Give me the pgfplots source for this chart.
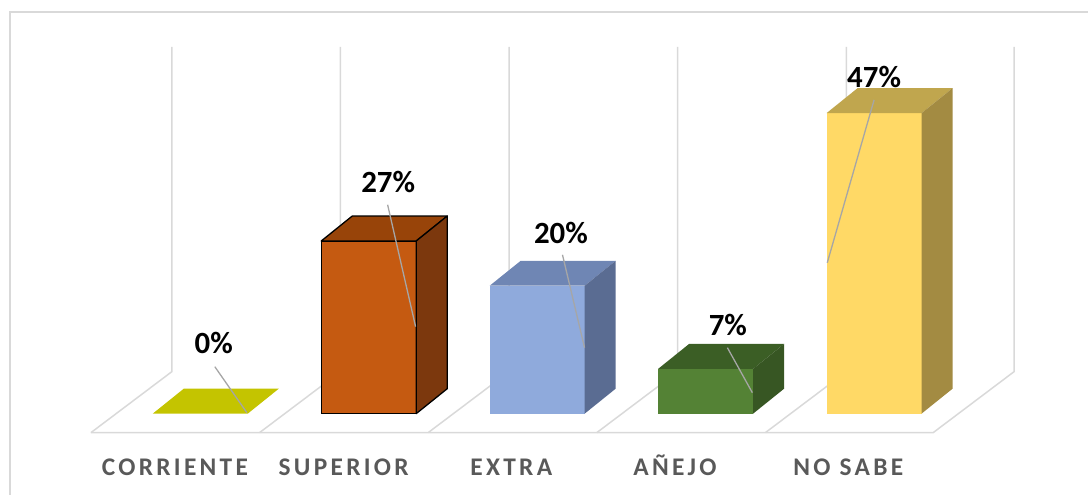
\documentclass[border=0pt]{standalone}
\usepackage{pgfplots}
\pgfplotsset{compat=1.18}
\usepackage{fontspec}
\setmainfont{Carlito}
\newfontfamily\catfont[LetterSpace=13]{Carlito}
\definecolor{gridg}{HTML}{D9D9D9}
\definecolor{leader}{HTML}{A6A6A6}
\definecolor{catg}{HTML}{595959}
\definecolor{corrT}{HTML}{C4C400}
\definecolor{supF}{HTML}{C55A11}
\definecolor{supT}{HTML}{984409}
\definecolor{supS}{HTML}{7C380D}
\definecolor{extF}{HTML}{8FAADC}
\definecolor{extT}{HTML}{6F86B4}
\definecolor{extS}{HTML}{5A6C92}
\definecolor{aneF}{HTML}{548235}
\definecolor{aneT}{HTML}{3B5E25}
\definecolor{aneS}{HTML}{375623}
\definecolor{noF}{HTML}{FFD966}
\definecolor{noT}{HTML}{C0A64E}
\definecolor{noS}{HTML}{A38B42}
\begin{document}
\begin{tikzpicture}
\begin{axis}[scale only axis, width=1089bp, height=495bp,
  xmin=-1.1892, xmax=5.2699, ymin=-12.656, ymax=64.6875,
  hide axis, clip=false]
% bounding box and chart border
\path (rel axis cs:0,0) rectangle (rel axis cs:1,1);
\draw[gridg, line width=2bp] (rel axis cs:0.0092,0) -- (rel axis cs:0.0092,0.9758) -- (rel axis cs:1,0.9758);
% floor and back wall
\addplot[gridg, line width=1.5bp] coordinates {(-0.649,-2.97) (4.351,-2.97) (4.831,6.56) (4.831,57.34)};
\addplot[gridg, line width=1.5bp] coordinates {(-0.649,-2.97) (-0.169,6.56) (-0.169,57.34)};
\addplot[gridg, line width=1.5bp] coordinates {(0.352,-2.97) (0.832,6.56) (0.832,57.34)};
\addplot[gridg, line width=1.5bp] coordinates {(1.353,-2.97) (1.833,6.56) (1.833,57.34)};
\addplot[gridg, line width=1.5bp] coordinates {(2.354,-2.97) (2.834,6.56) (2.834,57.34)};
\addplot[gridg, line width=1.5bp] coordinates {(3.355,-2.97) (3.835,6.56) (3.835,57.34)};
% CORRIENTE 0%
\addplot[fill=corrT, draw=none] coordinates {(-0.282,0) (0.282,0) (0.466,3.9) (-0.098,3.9)} -- cycle;
% SUPERIOR 27%
\addplot[ybar, bar width=0.564, bar shift=0pt, fill=supF, draw=black, line width=1.3bp] coordinates {(1,27)};
\addplot[fill=supT, draw=black, line width=1.3bp, line join=round] coordinates {(0.718,27) (1.282,27) (1.466,30.9) (0.902,30.9)} -- cycle;
\addplot[fill=supS, draw=black, line width=1.3bp, line join=round] coordinates {(1.282,0) (1.466,3.9) (1.466,30.9) (1.282,27)} -- cycle;
% EXTRA 20%
\addplot[ybar, bar width=0.564, bar shift=0pt, fill=extF, draw=none] coordinates {(2,20)};
\addplot[fill=extT, draw=none] coordinates {(1.718,20) (2.282,20) (2.466,23.9) (1.902,23.9)} -- cycle;
\addplot[fill=extS, draw=none] coordinates {(2.282,0) (2.466,3.9) (2.466,23.9) (2.282,20)} -- cycle;
% ANEJO 7%
\addplot[ybar, bar width=0.564, bar shift=0pt, fill=aneF, draw=none] coordinates {(3,7)};
\addplot[fill=aneT, draw=none] coordinates {(2.718,7) (3.282,7) (3.466,10.9) (2.902,10.9)} -- cycle;
\addplot[fill=aneS, draw=none] coordinates {(3.282,0) (3.466,3.9) (3.466,10.9) (3.282,7)} -- cycle;
% NO SABE 47%
\addplot[ybar, bar width=0.564, bar shift=0pt, fill=noF, draw=none] coordinates {(4,47)};
\addplot[fill=noT, draw=none] coordinates {(3.718,47) (4.282,47) (4.466,50.9) (3.902,50.9)} -- cycle;
\addplot[fill=noS, draw=none] coordinates {(4.282,0) (4.466,3.9) (4.466,50.9) (4.282,47)} -- cycle;
% leader lines
\addplot[leader, line width=1.3bp] coordinates {(0.086,7.34) (0.276,0.16)};
\addplot[leader, line width=1.3bp] coordinates {(1.112,32.66) (1.278,13.6)};
\addplot[leader, line width=1.3bp] coordinates {(2.150,24.84) (2.281,10.31)};
\addplot[leader, line width=1.3bp] coordinates {(3.129,10.31) (3.277,3.28)};
\addplot[leader, line width=1.3bp] coordinates {(4.0,49.06) (3.722,23.6)};
% value labels
\node[font=\bfseries\fontsize{31}{34}\selectfont, inner sep=0pt] at (axis cs:0.080,11.09) {0\%};
\node[font=\bfseries\fontsize{31}{34}\selectfont, inner sep=0pt] at (axis cs:1.115,36.25) {27\%};
\node[font=\bfseries\fontsize{31}{34}\selectfont, inner sep=0pt] at (axis cs:2.141,28.28) {20\%};
\node[font=\bfseries\fontsize{31}{34}\selectfont, inner sep=0pt] at (axis cs:3.132,13.91) {7\%};
\node[font=\bfseries\fontsize{31}{34}\selectfont, inner sep=0pt] at (axis cs:4.0,52.58) {47\%};
% category labels
\foreach \xx/\lab in {-0.151/CORRIENTE, 0.851/SUPERIOR, 1.846/EXTRA, 2.818/AÑEJO, 3.847/NO SABE}{
  \edef\tmp{\noexpand\node[font=\noexpand\catfont\noexpand\bfseries\noexpand\fontsize{25.5}{30}\noexpand\selectfont, text=catg, anchor=base, inner sep=0pt] at (axis cs:\xx,-9.69) {\lab};}
  \tmp
}
\end{axis}
\end{tikzpicture}
\end{document}
